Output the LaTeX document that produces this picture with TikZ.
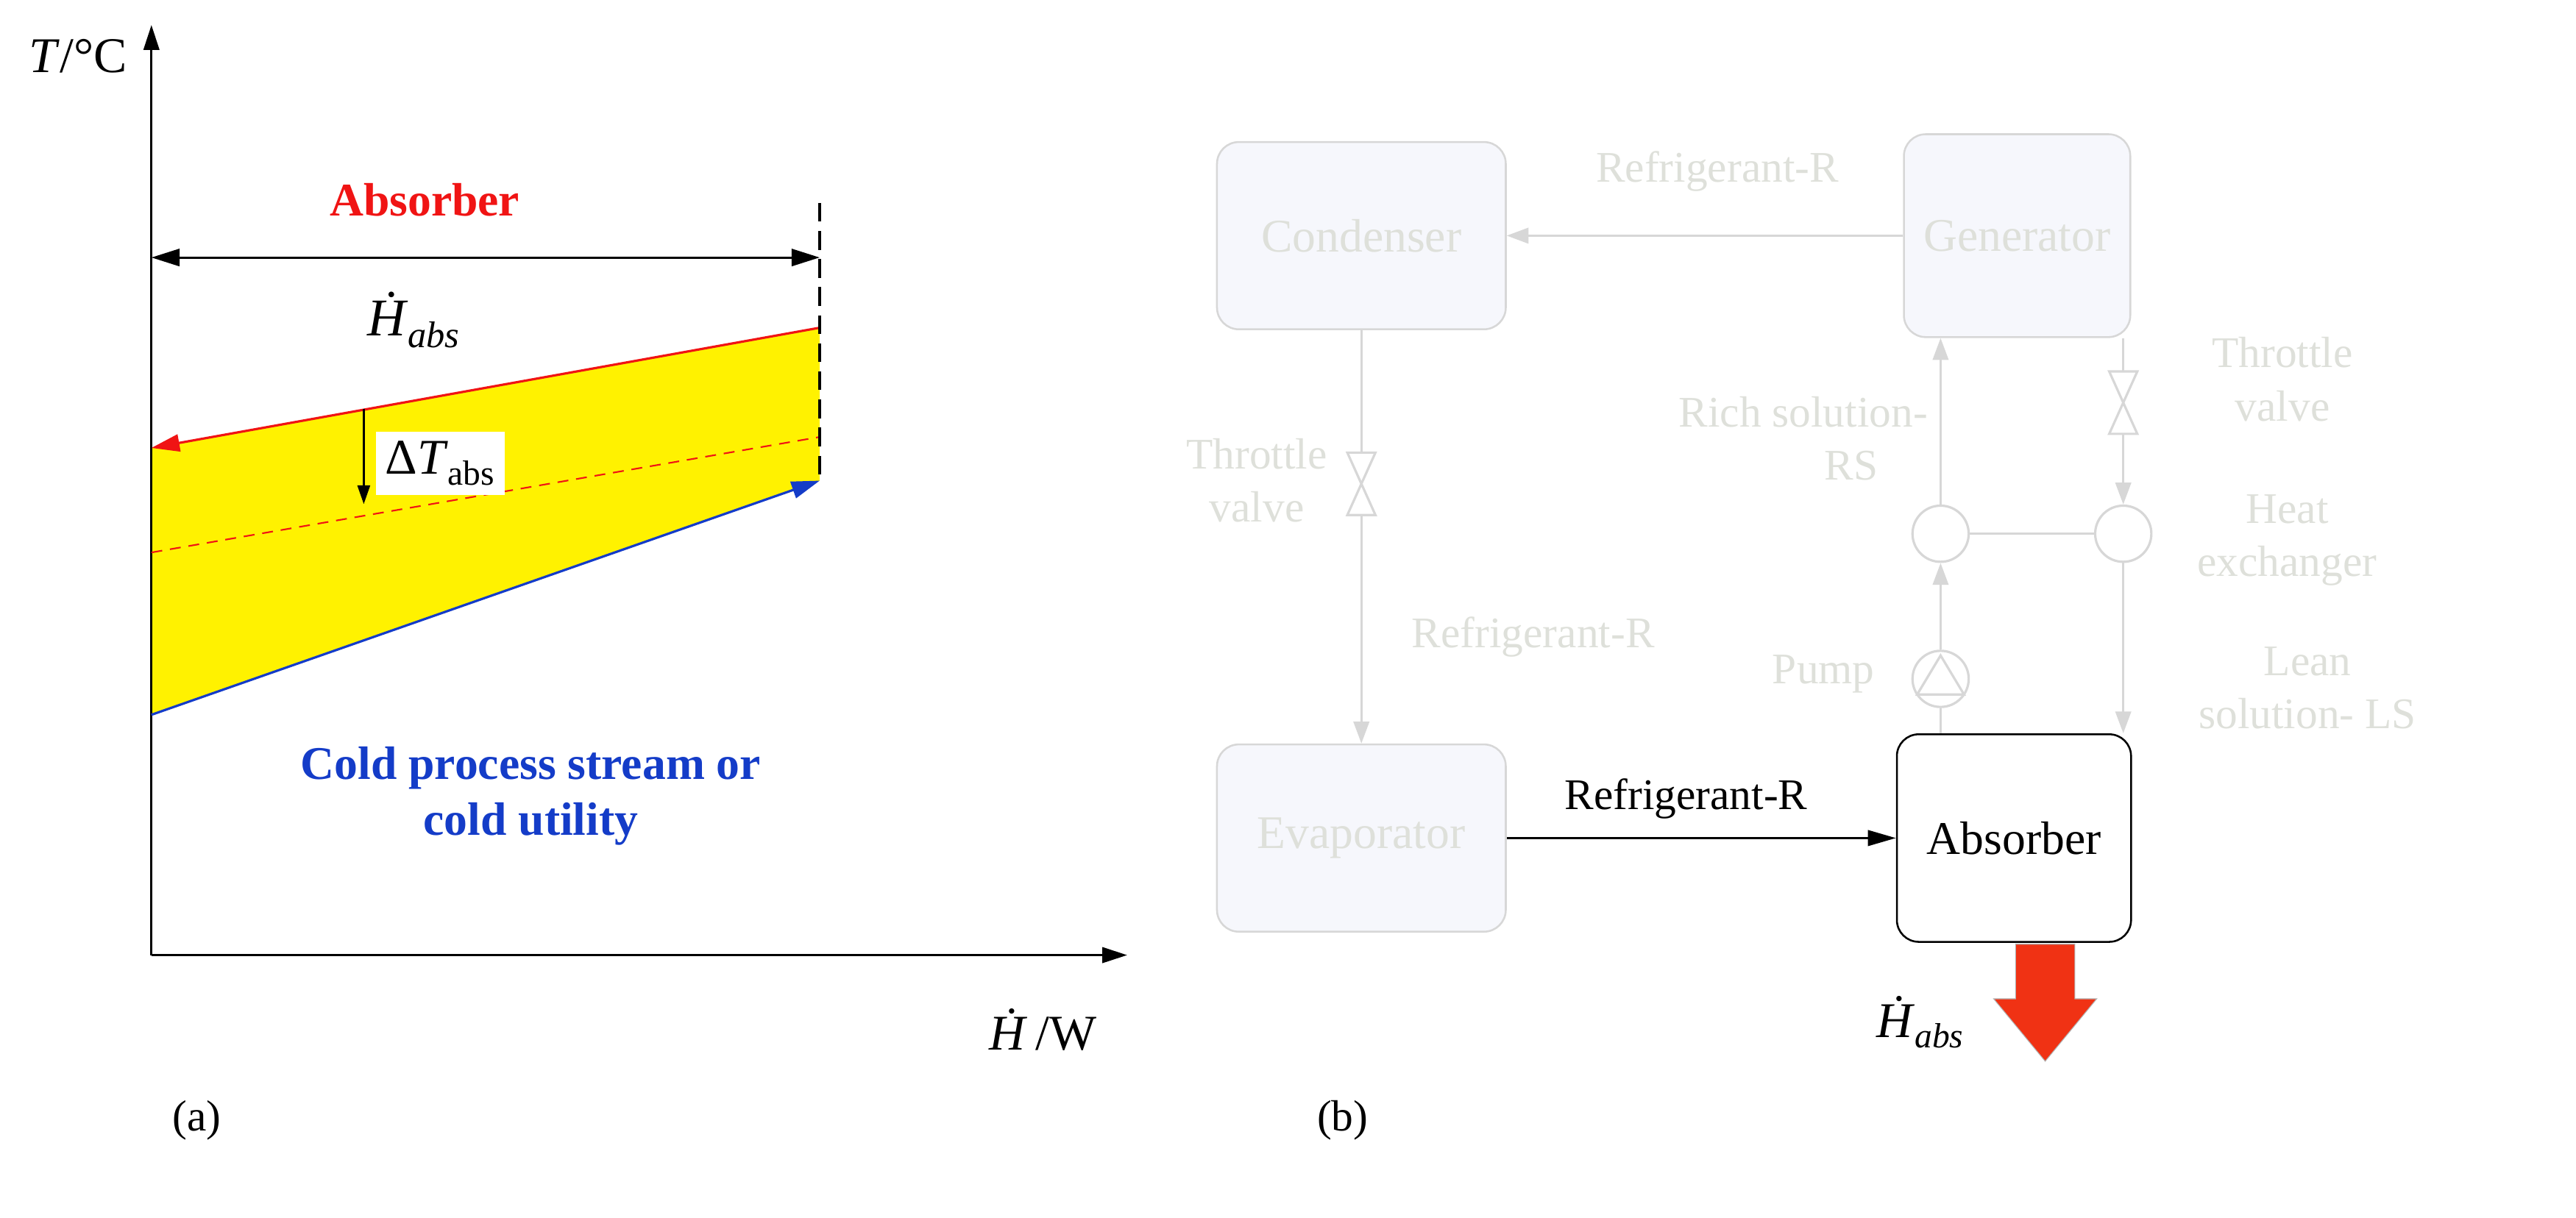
\documentclass[tikz,border=0pt]{standalone}
\usepackage{fontspec}
\setmainfont{Liberation Serif}
\usetikzlibrary{arrows.meta,positioning}
\definecolor{fadeline}{RGB}{215,215,215}
\definecolor{fadetext}{RGB}{222,224,218}
\definecolor{fadefill}{RGB}{246,247,252}
\definecolor{hotred}{RGB}{240,20,20}
\definecolor{coldblue}{RGB}{20,60,200}
\definecolor{heatarrow}{RGB}{240,50,20}
\newcommand{\Hdot}{\textit{\.{H}}}
\tikzset{
  unit/.style={draw=fadeline,fill=fadefill,rounded corners=14pt,line width=1.2pt,minimum width=185pt,minimum height=120pt,font=\fontsize{30}{34}\selectfont,text=fadetext},
  unitact/.style={unit,draw=black,fill=white,text=black},
  lbl/.style={font=\fontsize{28}{34}\selectfont,text=fadetext,align=center},
  pipe/.style={draw=fadeline,line width=1.5pt},
  tip/.style={-{Triangle[length=14pt,width=10pt]}},
  ring/.style={circle,draw=fadeline,fill=white,line width=1.5pt,minimum size=36pt,inner sep=0pt},
}
\begin{document}
\begin{tikzpicture}[x=1pt,y=1pt,yscale=-1]
\useasboundingbox (0,0) rectangle (1650,780);

% ---------- (a) ----------
\fill[yellow] (97,287) -- (525,210) -- (525,308) -- (97,458) -- cycle;
\coordinate (O) at (97,612);
\coordinate (ytop) at (97,16);
\coordinate (xend) at (722,612);
\draw[line width=1.5pt,-{Triangle[length=16pt,width=10pt]}] (O) -- (ytop);
\draw[line width=1.5pt,-{Triangle[length=16pt,width=10pt]}] (O) -- (xend);
\node[font=\fontsize{32}{36}\selectfont] (tlab) at (50,36) {\textit{T}/°C};
\node[font=\fontsize{32}{36}\selectfont] (hlab) at (668,660) {\Hdot\,/W};

%hot stream
\coordinate (hs) at (525,210);
\coordinate (he) at (97,287);
\draw[hotred,line width=1.5pt,-{Triangle[length=18pt,width=11pt]}] (hs) -- (he);
\coordinate (ds) at (97,354);
\coordinate (de) at (525,280);
\draw[hotred,line width=1pt,dash pattern=on 7pt off 5pt] (ds) -- (de);
%cold stream
\coordinate (cs) at (97,458);
\coordinate (ce) at (525,308);
\draw[coldblue,line width=1.5pt,-{Triangle[length=18pt,width=11pt]}] (cs) -- (ce);
\coordinate (vt) at (525,130);
\coordinate (vb) at (525,308);
\draw[line width=1.5pt,dash pattern=on 12pt off 6pt] (vt) -- (vb);
\coordinate (dl) at (97,165);
\coordinate (dr) at (525,165);
\draw[line width=1.5pt,{Triangle[length=18pt,width=11pt]}-{Triangle[length=18pt,width=11pt]}] (dl) -- (dr);

% Text Node
\node[text=hotred,font=\bfseries\fontsize{30}{34}\selectfont] (abs) at (272,128) {Absorber};
\node[font=\fontsize{34}{38}\selectfont] (habs) at (265,205) {\Hdot\textsubscript{\textit{abs}}};
\coordinate (dt1) at (233,262);
\coordinate (dt2) at (233,323);
\draw[line width=1.3pt,-{Triangle[length=12pt,width=8pt]}] (dt1) -- (dt2);
\node[fill=white,inner sep=6pt,font=\fontsize{32}{36}\selectfont] (dtl) at (282,297) {Δ\textit{T}\textsubscript{abs}};
\node[text=coldblue,font=\bfseries\fontsize{30}{36}\selectfont,align=center] (cold) at (340,510) {Cold process stream or\\cold utility};
\node (pa) at (126,718) {\fontsize{28}{32}\selectfont(a)};

% ---------- (b) ----------
\node[unit] (cond) at (872,151) {Condenser};
\node[unit,minimum width=145pt,minimum height=130pt] (gen) at (1292,151) {Generator};
\node[unit] (evap) at (872,537) {Evaporator};
\node[unitact,minimum width=150pt,minimum height=133pt] (absb) at (1290,537) {Absorber};

\node[ring] (hx1) at (1243,342) {};
\node[ring] (hx2) at (1360,342) {};
\node[ring] (pump) at (1243,435) {};
\draw[pipe] (1228,445) -- (1243,420) -- (1258,445) -- cycle;

%valves
\coordinate (v1) at (872,310);
\coordinate (v2) at (1360,258);
\foreach \v in {v1,v2}{
  \draw[pipe] ([shift={(-9,-20)}]\v) -- ([shift={(9,-20)}]\v) -- ([shift={(-9,20)}]\v) -- ([shift={(9,20)}]\v) -- cycle;
}

%pipes
\draw[pipe,tip] (gen) -- (cond);
\draw[pipe] (cond) -- ([yshift=-20]v1);
\draw[pipe,tip] ([yshift=20]v1) -- (evap);
\draw[pipe,tip] (hx1) -- (hx1 |- gen.south);
\draw[pipe,tip] (pump) -- (hx1);
\draw[pipe] (absb.north -| pump) -- (pump);
\draw[pipe] (hx1) -- (hx2);
\draw[pipe] (gen.south -| v2) -- ([yshift=-20]v2);
\draw[pipe,tip] ([yshift=20]v2) -- (hx2);
\draw[pipe,tip] (hx2) -- (hx2 |- absb.north);
\draw[line width=1.5pt,-{Triangle[length=18pt,width=10pt]}] (evap) -- (absb);

%heat out
\fill[heatarrow,draw=gray!60,line width=0.5pt] (1291,605) -- (1329,605) -- (1329,640) -- (1343,640) -- (1310,680) -- (1277,640) -- (1291,640) -- cycle;

% Text Node
\node[lbl] (r1) at (1100,110) {Refrigerant-R};
\node[lbl] (r2) at (982,408) {Refrigerant-R};
\node[font=\fontsize{28}{34}\selectfont] (r3) at (1080,512) {Refrigerant-R};
\node[lbl] (tv1) at (805,308) {Throttle\\valve};
\node[lbl] (tv2) at (1462,243) {Throttle\\valve};
\node[lbl] (rs) at (1155,281) {Rich solution-\\\hspace*{2.2em}RS};
\node[lbl] (hx) at (1465,346) {Heat\\exchanger};
\node[lbl] (ls) at (1478,441) {Lean\\solution- LS};
\node[lbl] (pl) at (1168,432) {Pump};
\node[font=\fontsize{32}{36}\selectfont] (habs2) at (1230,655) {\Hdot\textsubscript{\textit{abs}}};
\node (pb) at (860,718) {\fontsize{28}{32}\selectfont(b)};
\end{tikzpicture}
\end{document}
